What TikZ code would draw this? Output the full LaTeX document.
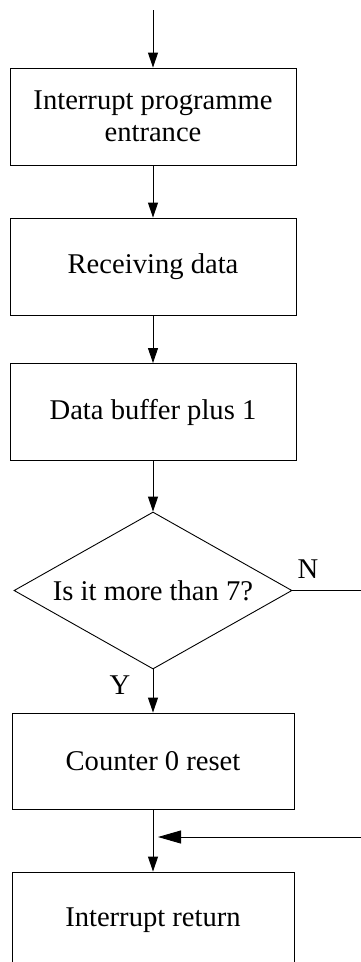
\documentclass[tikz,border=0pt]{standalone}
\usepackage{fontspec}
\setmainfont{Liberation Serif}
\usetikzlibrary{shapes.geometric,arrows.meta}
\begin{document}
\begin{tikzpicture}[x=1pt,y=-1pt,
  txt/.style={font=\fontsize{28.6}{32}\selectfont},
  box/.style={draw, line width=0.9pt, minimum width=286pt, minimum height=97pt, inner sep=0pt, align=center, txt},
  dec/.style={draw, diamond, aspect=1.77, line width=0.9pt, minimum width=278pt, minimum height=157pt, inner sep=0pt, align=center, txt},
  arr/.style={line width=0.9pt, -{Triangle[length=15pt,width=10pt]}},
  bigarr/.style={line width=0.9pt, -{Triangle[length=23pt,width=13pt]}},
  plain/.style={line width=0.9pt}]
\clip (0,0) rectangle (361,962);
\coordinate (top) at (153,10);
\node[box] (b1) at (153,116.5) {Interrupt programme\\entrance};
\node[box] (b2) at (153,266.5) {Receiving data};
\node[box] (b3) at (153,412) {Data buffer plus 1};
\node[dec] (d) at (153,590.5) {Is it more than 7?};
\node[box, minimum width=282pt, minimum height=96pt] (b4) at (153,761) {Counter 0 reset};
\node[box, minimum width=282pt, minimum height=96pt] (b5) at (153,920) {Interrupt return};
\node[txt] (n) at (308,569) {N};
\node[txt] (y) at (120,685) {Y};
\coordinate (nr) at (366,590.5);
\coordinate (rr) at (366,837);
\coordinate (jn) at (158,837);
\draw[arr] (top) -- (b1);
\draw[arr] (b1) -- (b2);
\draw[arr] (b2) -- (b3);
\draw[arr] (b3) -- (d);
\draw[arr] (d) -- (b4);
\draw[arr] (b4) -- (b5);
\draw[plain] (d.east) -- (nr);
\draw[bigarr] (rr) -- (jn);
\end{tikzpicture}
\end{document}
